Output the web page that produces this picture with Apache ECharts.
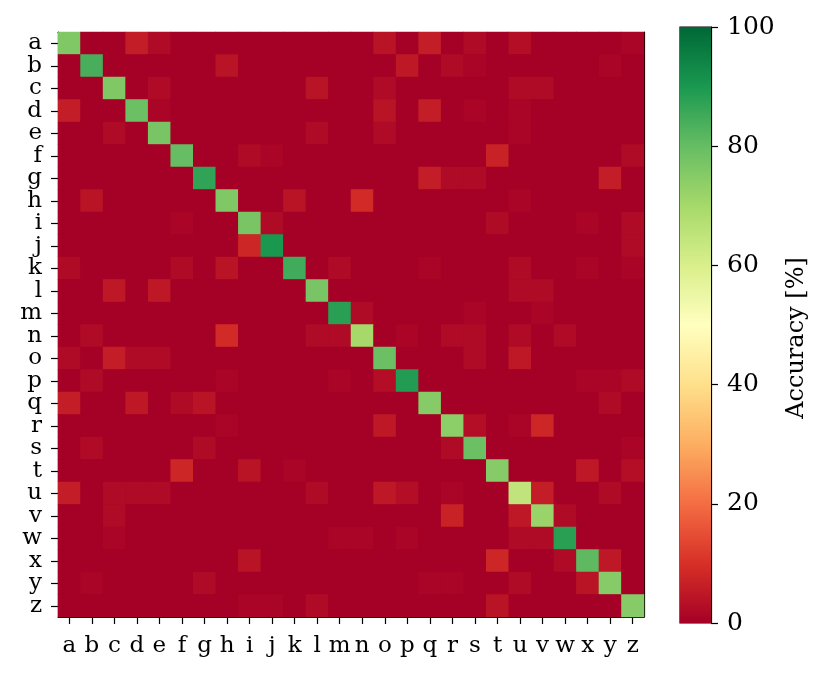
<!DOCTYPE html>
<html>
<head>
<meta charset="utf-8">
<script src="https://cdn.jsdelivr.net/npm/echarts@6/dist/echarts.min.js"></script>
<style>
  html, body { margin: 0; padding: 0; background: #fff; }
  #chart { width: 832px; height: 677px; }
</style>
</head>
<body>
<div id="chart"></div>
<script>
// class labels, same on both axes
const letters = "abcdefghijklmnopqrstuvwxyz".split("");

// accuracy [%], row = true letter, column = predicted letter
const matrix = [
  [76,0,0,6,2,0,0,0,0,0,0,0,0,0,4,0,6,0,2,0,3,0,0,0,0,1], // a
  [0,84,0,0,0,0,0,4,0,0,0,0,0,0,0,5,0,2,1,0,0,0,0,0,1,0], // b
  [0,0,76,0,2,0,0,0,0,0,0,4,0,0,2,0,0,0,0,0,2,2,0,0,0,0], // c
  [6,0,0,79,1,0,0,0,0,0,0,0,0,0,4,0,6,0,1,0,1,0,0,0,0,0], // d
  [0,0,2,0,77,0,0,0,0,0,0,2,0,0,2,0,0,0,0,0,1,0,0,0,0,0], // e
  [0,0,0,0,0,80,0,0,2,1,0,0,0,0,0,0,0,0,0,7,0,0,0,0,0,2], // f
  [0,0,0,0,0,0,87,0,0,0,0,0,0,0,0,0,6,2,2,0,0,0,0,0,6,0], // g
  [0,4,0,0,0,0,0,76,0,0,4,0,0,9,0,0,0,0,0,0,1,0,0,0,0,0], // h
  [0,0,0,0,0,1,0,0,77,2,0,0,0,0,0,0,0,0,0,2,0,0,0,1,0,2], // i
  [0,0,0,0,0,0,0,0,8,90,0,0,0,0,0,0,0,0,0,0,0,0,0,0,0,2], // j
  [2,0,0,0,0,2,0,4,0,0,85,0,2,0,0,0,1,0,0,0,2,0,0,1,0,1], // k
  [0,0,5,0,5,0,0,0,0,0,0,77,0,0,0,0,0,0,0,0,2,2,0,0,0,0], // l
  [0,0,0,0,0,0,0,0,0,0,0,0,88,2,0,0,0,0,1,0,0,1,0,0,0,0], // m
  [0,2,0,0,0,0,0,9,0,0,0,2,2,70,0,1,0,2,2,0,2,0,2,0,0,0], // n
  [2,0,6,2,2,0,0,0,0,0,0,0,0,0,79,0,0,0,2,0,5,0,0,0,0,0], // o
  [0,2,0,0,0,0,0,1,0,0,0,0,1,0,3,89,0,0,0,0,0,0,0,1,1,2], // p
  [6,0,0,5,0,2,4,0,0,0,0,0,0,0,0,0,75,0,0,0,0,0,0,0,2,0], // q
  [0,0,0,0,0,0,0,1,0,0,0,0,0,0,5,0,0,74,3,0,1,8,0,0,0,0], // r
  [0,2,0,0,0,0,2,0,0,0,0,0,0,0,0,0,0,2,79,0,0,0,0,0,0,1], // s
  [0,0,0,0,0,8,0,0,4,0,1,0,0,0,0,0,0,0,0,75,0,0,0,5,0,3], // t
  [6,0,2,2,2,0,0,0,0,0,0,2,0,0,5,3,0,1,0,0,65,6,0,0,2,0], // u
  [0,0,2,0,0,0,0,0,0,0,0,0,0,0,0,0,0,7,0,0,5,72,2,0,0,0], // v
  [0,0,1,0,0,0,0,0,0,0,0,0,1,1,0,1,0,0,0,0,2,2,88,0,0,0], // w
  [0,0,0,0,0,0,0,0,4,0,0,0,0,0,0,0,0,0,0,8,0,0,2,81,5,0], // x
  [0,1,0,0,0,0,2,0,0,0,0,0,0,0,0,0,1,1,0,0,2,0,0,4,75,0], // y
  [0,0,0,0,0,0,0,0,1,1,0,2,0,0,0,0,0,0,0,4,0,0,0,0,0,75]  // z
];

const colorbarTicks = [0, 20, 40, 60, 80, 100];

// RdYlGn, low -> high
const rdylgn = ["#a50026", "#d73027", "#f46d43", "#fdae61", "#fee08b", "#ffffbf",
                "#d9ef8b", "#a6d96a", "#66bd63", "#1a9850", "#006837"];

const cells = [];
matrix.forEach((row, r) => {
  row.forEach((v, c) => cells.push([c, r, v]));
});

const font = "DejaVu Serif";
const black = { color: "#000", width: 1.2 };
const chart = echarts.init(document.getElementById("chart"));

chart.setOption({
  animation: false,
  backgroundColor: "#fff",
  textStyle: { fontFamily: font },
  grid: [
    // dark red underneath so the seams between cells don't show white
    { left: 58, top: 32, width: 586, height: 585, show: true, borderWidth: 0, backgroundColor: rdylgn[0] },
    { left: 680, top: 27, width: 31, height: 596, show: true, borderColor: "#000", borderWidth: 1.2, backgroundColor: "transparent" }
  ],
  xAxis: [
    {
      gridIndex: 0, type: "category", data: letters, position: "bottom",
      axisLine: { show: true, lineStyle: black },
      axisTick: { show: true, alignWithLabel: true, length: 7, lineStyle: black },
      axisLabel: { color: "#000", fontFamily: font, fontSize: 23, margin: 18, interval: 0 },
      splitLine: { show: false }
    },
    { gridIndex: 1, type: "category", data: ["cb"], show: false },
    {
      gridIndex: 0, type: "category", data: letters, position: "top",
      axisLine: { show: true, lineStyle: black },
      axisTick: { show: false }, axisLabel: { show: false }, splitLine: { show: false }
    }
  ],
  yAxis: [
    {
      gridIndex: 0, type: "category", data: letters, inverse: true,
      axisLine: { show: true, lineStyle: black },
      axisTick: { show: true, alignWithLabel: true, length: 7, lineStyle: black },
      axisLabel: { color: "#000", fontFamily: font, fontSize: 23, margin: 16, interval: 0 },
      splitLine: { show: false }
    },
    {
      gridIndex: 1, type: "value", position: "right", min: 0, max: 100, interval: 20,
      axisLine: { show: true, lineStyle: black },
      axisTick: { show: true, length: 7, lineStyle: black },
      axisLabel: { color: "#000", fontFamily: font, fontSize: 25, margin: 16,
        formatter: v => colorbarTicks.includes(v) ? String(v) : "" },
      splitLine: { show: false },
      name: "Accuracy [%]", nameLocation: "middle", nameRotate: 90, nameGap: 74,
      nameTextStyle: { color: "#000", fontFamily: font, fontSize: 24, padding: [0, 26, 0, 0] }
    },
    {
      gridIndex: 0, type: "category", data: letters, inverse: true, position: "right",
      axisLine: { show: true, lineStyle: black },
      axisTick: { show: false }, axisLabel: { show: false }, splitLine: { show: false }
    }
  ],
  visualMap: {
    show: false, type: "continuous", min: 0, max: 100, seriesIndex: 0,
    inRange: { color: rdylgn }
  },
  series: [
    {
      type: "heatmap", xAxisIndex: 0, yAxisIndex: 0, data: cells,
      itemStyle: { borderWidth: 0 },
      emphasis: { disabled: true }
    },
    {
      type: "bar", xAxisIndex: 1, yAxisIndex: 1, data: [100], barWidth: "100%",
      itemStyle: {
        color: new echarts.graphic.LinearGradient(0, 1, 0, 0,
          rdylgn.map((c, i) => ({ offset: i / (rdylgn.length - 1), color: c })))
      },
      emphasis: { disabled: true }
    }
  ]
});
</script>
</body>
</html>
